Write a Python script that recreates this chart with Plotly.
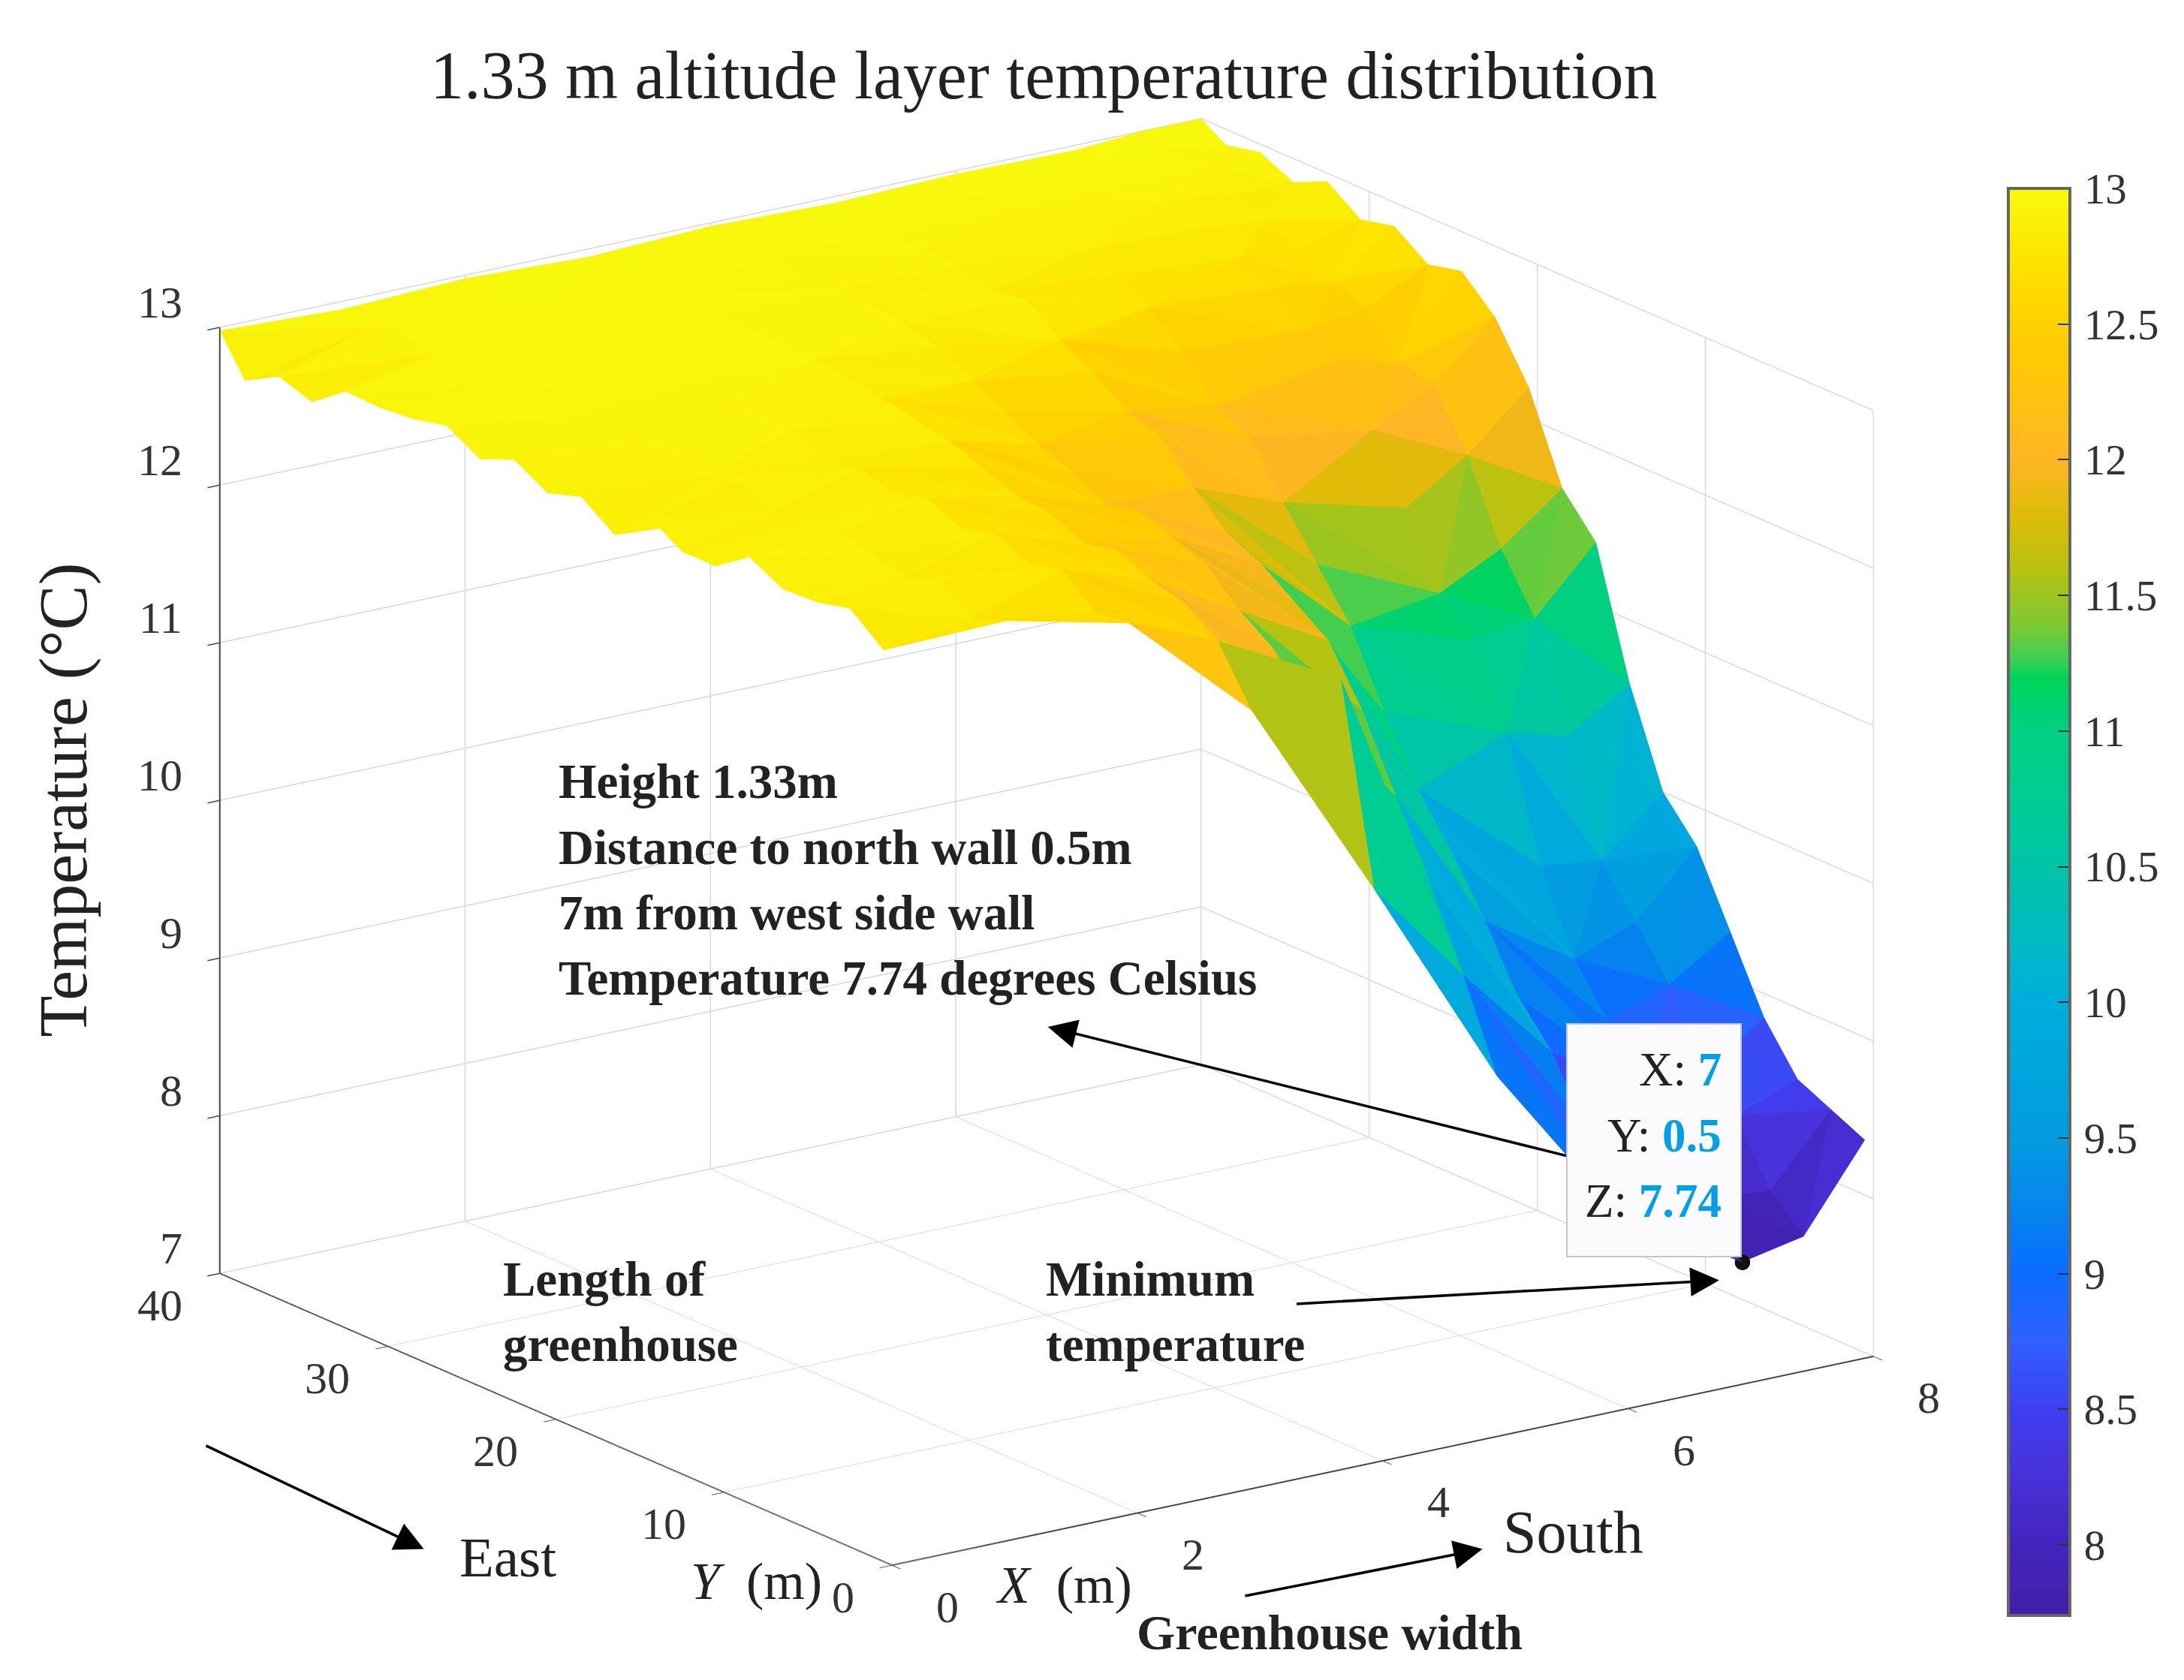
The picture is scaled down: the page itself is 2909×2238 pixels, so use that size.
import numpy as np
import plotly.graph_objects as go

W, H = 2909, 2238
S = 2909 / 1568  # the layout notes below are measured at 1568 px wide

x_m = [0, 1, 2, 3, 4, 5, 6, 7, 7.5, 8]
y_m = [0.5, 2.5, 4.5, 6.5, 8.5, 10.5, 12.5, 14.5, 16.5, 18.5, 20.5,
       22.5, 24.5, 26.5, 28.5, 30.5, 32.5, 34.5, 36.5, 38.5, 40]
temperature = [
    [12.78, 12.80, 12.62, 11.90, 10.60, 9.25, 8.20, 7.74, 7.82, 8.35],
    [12.95, 12.72, 12.60, 12.25, 11.85, 9.80, 8.65, 8.05, 8.02, 8.45],
    [12.90, 12.88, 12.78, 12.40, 11.55, 10.30, 9.05, 8.25, 8.40, 8.55],
    [12.89, 12.80, 12.72, 12.45, 11.85, 10.75, 9.30, 8.60, 8.55, 8.85],
    [13.00, 12.86, 12.82, 12.55, 12.00, 11.20, 9.70, 8.90, 9.05, 9.30],
    [12.85, 12.90, 12.76, 12.50, 12.20, 11.55, 10.05, 9.20, 9.35, 9.75],
    [12.85, 12.88, 12.86, 12.60, 12.28, 11.70, 10.35, 9.70, 9.65, 10.00],
    [12.98, 12.84, 12.80, 12.62, 12.35, 11.85, 10.75, 10.45, 10.35, 10.60],
    [12.77, 12.94, 12.86, 12.70, 12.30, 11.95, 11.20, 10.95, 11.00, 11.40],
    [12.92, 12.88, 12.82, 12.78, 12.42, 12.15, 11.50, 11.15, 11.35, 11.65],
    [12.85, 12.96, 12.92, 12.82, 12.50, 12.38, 11.80, 11.60, 11.85, 12.20],
    [12.97, 12.90, 12.94, 12.86, 12.62, 12.45, 12.12, 12.00, 12.20, 12.55],
    [12.88, 12.96, 12.90, 12.90, 12.72, 12.60, 12.22, 12.35, 12.25, 12.75],
    [13.00, 12.90, 12.95, 12.92, 12.84, 12.72, 12.48, 12.45, 12.50, 12.70],
    [12.95, 12.97, 12.96, 12.94, 12.90, 12.88, 12.66, 12.62, 12.58, 12.85],
    [12.93, 12.92, 12.92, 12.94, 12.92, 12.84, 12.78, 12.72, 12.70, 12.80],
    [12.94, 12.97, 12.97, 12.92, 12.93, 12.90, 12.84, 12.82, 12.78, 12.95],
    [12.78, 12.92, 12.92, 12.96, 12.90, 12.92, 12.88, 12.90, 12.86, 12.85],
    [12.85, 12.97, 12.96, 12.92, 12.97, 12.92, 12.93, 12.92, 12.94, 12.95],
    [12.73, 12.90, 12.95, 12.97, 12.92, 12.96, 12.92, 12.97, 12.95, 12.90],
    [12.98, 12.95, 12.98, 12.95, 12.98, 12.96, 12.98, 12.97, 13.00, 13.00],
]
min_x, min_y, min_z = [7], [0.5], [7.74]
cb_ticks = [8, 8.5, 9, 9.5, 10, 10.5, 11, 11.5, 12, 12.5, 13]
cb_labels = ["8", "8.5", "9", "9.5", "10", "10.5", "11", "11.5", "12", "12.5", "13"]
x_ticks = [0, 2, 4, 6, 8]
y_ticks = [0, 10, 20, 30, 40]
z_ticks = [7, 8, 9, 10, 11, 12, 13]

CMIN, CMAX = 7.74, 13.0
stops = [(7.74, "#3f1fa8"), (8, "#4325bd"), (8.25, "#4830d8"), (8.5, "#3f3ff0"),
         (8.75, "#3060ff"), (9, "#0a6cff"), (9.25, "#0586ec"), (9.5, "#029ce0"),
         (10, "#00aedb"), (10.25, "#00bcc0"), (10.5, "#00c4a8"), (10.75, "#00cc94"),
         (11, "#00d080"), (11.2, "#00d45a"), (11.27, "#40cf50"), (11.4, "#80c830"),
         (11.6, "#b8c210"), (11.8, "#e0bb08"), (12, "#ffb526"), (12.25, "#ffc40c"),
         (12.5, "#ffd000"), (12.75, "#fde500"), (13, "#f8fa0d")]
colorscale = [[(v - CMIN) / (CMAX - CMIN), c] for v, c in stops]

# triangulated grid, coloured per face
nx, ny = len(x_m), len(y_m)
Z = np.array(temperature)
X, Y = np.meshgrid(x_m, y_m)
vx, vy, vz = X.ravel(), Y.ravel(), Z.ravel()
I, J, K = [], [], []
for r in range(ny - 1):
    for c in range(nx - 1):
        a, b = r * nx + c, r * nx + c + 1
        d, e = (r + 1) * nx + c, (r + 1) * nx + c + 1
        if (r + c) % 2 == 0:
            I += [a, a]; J += [b, e]; K += [e, d]
        else:
            I += [a, b]; J += [b, e]; K += [d, d]
I, J, K = np.array(I), np.array(J), np.array(K)
cell = (vz[I] + vz[J] + vz[K]) / 3

FONT = "Liberation Serif"
INK = "#333333"
fig = go.Figure()
fig.add_trace(go.Mesh3d(
    x=vx, y=vy, z=vz, i=I, j=J, k=K, intensity=cell, intensitymode="cell",
    colorscale=colorscale, cmin=CMIN, cmax=CMAX, flatshading=True,
    lighting=dict(ambient=1, diffuse=0, specular=0, roughness=1, fresnel=0),
    showscale=True,
    colorbar=dict(
        x=2667 / W, xanchor="left", y=1 - 243 / H, yanchor="top",
        lenmode="pixels", len=1901, thicknessmode="pixels", thickness=82,
        xpad=0, ypad=0, outlinecolor="#666", outlinewidth=4,
        tickmode="array", tickvals=cb_ticks, ticktext=["&#8202;" + t for t in cb_labels],
        ticks="inside", ticklen=18, tickcolor="#333", tickwidth=2,
        tickfont=dict(family=FONT, size=57, color=INK),
    ),
))
fig.add_trace(go.Scatter3d(
    x=min_x, y=min_y, z=min_z, mode="markers", showlegend=False,
    marker=dict(size=12, color="#111"),
))

def axis(rng, ticks):
    return dict(range=rng, tickmode="array", tickvals=ticks, title=dict(text=""),
                showticklabels=False,
                showbackground=False, showgrid=True, gridcolor="#d8d8d8", gridwidth=3,
                zeroline=False, showspikes=False, showline=True, linecolor="#444",
                linewidth=4, ticks="outside", ticklen=20, tickwidth=3, tickcolor="#444")

elev, azim = np.radians(17.7), np.radians(55.0)
L = 2.0
eye = dict(x=-L * np.cos(elev) * np.cos(azim), y=-L * np.cos(elev) * np.sin(azim), z=L * np.sin(elev))

def ann(text, x, y, size=54, bold=False, anchor="left", **kw):
    t = f"<b>{text}</b>" if bold else text
    dx = {"left": -4.5, "right": -2.5, "center": 0}[anchor]
    return dict(text=t, x=(x + dx) * S / W, y=1 - (y - 4) * S / H, xref="paper", yref="paper", showarrow=False,
                xanchor=anchor, yanchor="middle", font=dict(family=FONT, size=size, color="#222"), **kw)

def arrow(x0, y0, x1, y1):
    return dict(text=" ", x=x1 * S / W, y=1 - y1 * S / H, xref="paper", yref="paper",
                axref="pixel", ayref="pixel", ax=(x0 - x1) * S, ay=(y0 - y1) * S,
                showarrow=True, arrowhead=2, arrowsize=2.2, arrowwidth=3.5, arrowcolor="#000", standoff=0)

def tick3d(x, y, z, text, anchor, xs, ys):
    return dict(x=x, y=y, z=z, text=str(text), showarrow=False, xanchor=anchor, yanchor="middle",
                xshift=xs * S, yshift=ys * S, font=dict(family=FONT, size=60, color=INK))

scene_anns = (
    [tick3d(0, 40, v, v, "right", -26, 18) for v in z_ticks]
    + [tick3d(0, v, 7, v, "right", -26, -23) for v in y_ticks]
    + [tick3d(v, 0, 7, v, "center", 40, -30) for v in x_ticks]
)

BLUE = "#00a0e8"
anns = [
    ann("1.33 m altitude layer temperature distribution", 308, 54, size=90),
    ann("Temperature (°C)", 42, 574, size=90, anchor="center", textangle=-90),
    ann("Height 1.33m", 400, 561, size=65, bold=True),
    ann("Distance to north wall 0.5m", 400, 608, size=65, bold=True),
    ann("7m from west side wall", 400, 655, size=65, bold=True),
    ann("Temperature 7.74 degrees Celsius", 400, 702, size=65, bold=True),
    ann("Length of", 360, 918, size=65, bold=True),
    ann("greenhouse", 360, 965, size=65, bold=True),
    ann("Minimum", 750, 918, size=65, bold=True),
    ann("temperature", 750, 965, size=65, bold=True),
    ann("Greenhouse width", 815, 1172, size=66, bold=True),
    ann("East", 329, 1118, size=75),
    ann("South", 1078, 1100, size=80),
    ann("<i>Y</i>&nbsp;&nbsp;(m)", 495, 1135, size=70),
    ann("<i>X</i>&nbsp;&nbsp;(m)", 714, 1138, size=70),
    arrow(1130, 828, 748, 733),
    arrow(925, 932, 1230, 915),
    arrow(888, 1142, 1060, 1108),
    arrow(142, 1033, 300, 1108),
    dict(text=" ", x=2078 / W, y=1 - 1355 / H, xref="paper", yref="paper", xanchor="left", yanchor="top",
         showarrow=False, width=228, height=306, bgcolor="#fbfbfe", bordercolor="#c4c4cc", borderwidth=2),
    ann(f'X: <b><span style="color:{BLUE}">7</span></b>', 1235, 768, size=63, anchor="right"),
    ann(f'Y: <b><span style="color:{BLUE}">0.5</span></b>', 1235, 815, size=63, anchor="right"),
    ann(f'Z: <b><span style="color:{BLUE}">7.74</span></b>', 1235, 862, size=63, anchor="right"),
]

fig.update_layout(
    width=W, height=H, margin=dict(l=0, r=0, t=0, b=0), paper_bgcolor="white", showlegend=False,
    annotations=anns,
    scene=dict(
        domain=dict(x=[0, 2772 / W], y=[0.005, 1]),
        xaxis=axis([0, 8], x_ticks), yaxis=axis([0, 40], y_ticks), zaxis=axis([7, 13], z_ticks),
        aspectmode="manual", aspectratio=dict(x=1.433, y=1.402, z=1.188),
        annotations=scene_anns,
        camera=dict(projection=dict(type="orthographic"), eye=eye,
                    center=dict(x=0, y=0, z=0), up=dict(x=0, y=0, z=1)),
    ),
)
fig.write_html("out.html", config=dict(displayModeBar=False))
